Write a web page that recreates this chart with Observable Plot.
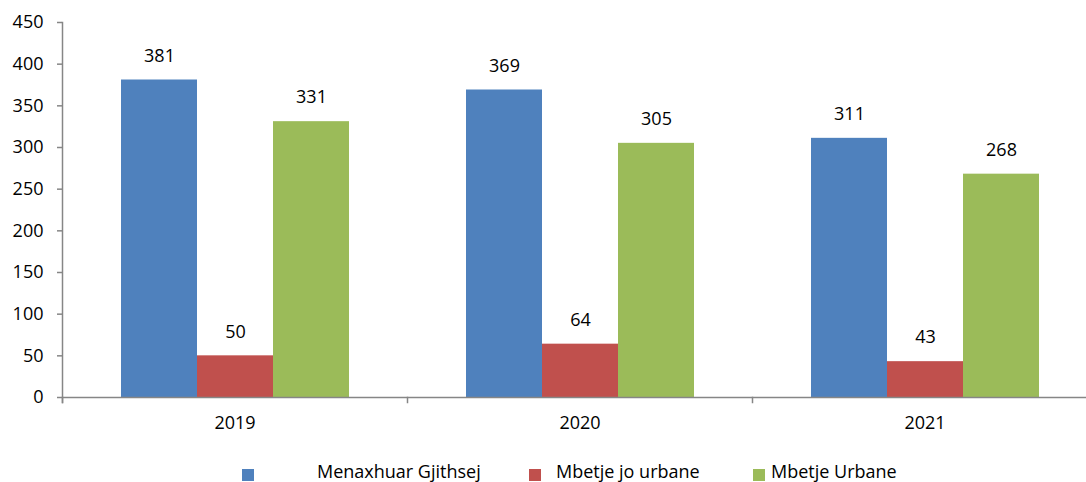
<!DOCTYPE html>
<html>
<head>
<meta charset="utf-8">
<script src="https://cdn.jsdelivr.net/npm/d3@7"></script>
<script src="https://cdn.jsdelivr.net/npm/@observablehq/plot@0.6"></script>
<style>
  html, body { margin: 0; padding: 0; background: #fff; overflow: hidden; }
  #wrap { position: relative; width: 1086px; height: 482px; overflow: hidden; font-family: "Open Sans", sans-serif; }
  #chart { width: 1097px; }
  #chart svg { max-width: none; display: block; }
  .lg-sq { position: absolute; width: 12px; height: 12px; top: 469px; }
  .lg-tx { position: absolute; top: 460px; font-size: 18px; line-height: 22px; color: #000; white-space: nowrap; }
</style>
</head>
<body>
<div id="wrap"><div id="chart"></div><div id="legend"></div></div>
<script>
const years = ["2019", "2020", "2021"];
const series = ["Menaxhuar Gjithsej", "Mbetje jo urbane", "Mbetje Urbane"];
const menaxhuarGjithsej = [381, 369, 311];
const mbetjeJoUrbane = [50, 64, 43];
const mbetjeUrbane = [331, 305, 268];
const colors = ["#4F81BD", "#C0504D", "#9BBB59"];
const yTicks = [0, 50, 100, 150, 200, 250, 300, 350, 400, 450];

const valuesBySeries = [menaxhuarGjithsej, mbetjeJoUrbane, mbetjeUrbane];
const rows = years.flatMap((year, i) =>
  series.map((s, j) => ({year, series: s, value: valuesBySeries[j][i]}))
);

const gray = "#868686";
const plot = Plot.plot({
  width: 1097,
  height: 440,
  marginLeft: 62,
  marginRight: 0,
  marginTop: 22,
  marginBottom: 43,
  style: {fontFamily: "'Open Sans', sans-serif", fontSize: "18px", color: "#000", background: "#fff"},
  fx: {domain: years, padding: 0, label: null},
  x: {domain: series, paddingInner: 0, paddingOuter: 0.755, axis: null},
  y: {domain: [0, 450], label: null},
  color: {domain: series, range: colors},
  marks: [
    Plot.barY(rows, {fx: "year", x: "series", y: "value", fill: "series"}),
    Plot.text(rows, {fx: "year", x: "series", y: "value", text: d => String(d.value), dy: -24, fontSize: 18, fill: "#000"}),
    Plot.ruleY([0], {stroke: gray, strokeWidth: 1.5}),
    Plot.frame({anchor: "left", facetAnchor: "left", insetBottom: -5, stroke: gray, strokeWidth: 1.5}),
    Plot.frame({anchor: "left", insetTop: 375, insetBottom: -5, stroke: gray, strokeWidth: 1.5}),
    Plot.axisY(yTicks, {tickSize: 5, tickPadding: 14, stroke: gray, strokeWidth: 1.5, fill: "#000", label: null, fontSize: 18}),
    Plot.axisFx({anchor: "bottom", tickSize: 0, tickPadding: 19, label: null, fontSize: 18, fill: "#000"})
  ]
});
document.getElementById("chart").appendChild(plot);

// legend (HTML, below the SVG)
const legendSquareLeft = [242, 529, 753];
const legendTextLeft = [317, 556, 771];
const legend = document.getElementById("legend");
series.forEach((s, i) => {
  const sq = document.createElement("div");
  sq.className = "lg-sq";
  sq.style.left = legendSquareLeft[i] + "px";
  sq.style.background = colors[i];
  legend.appendChild(sq);
  const tx = document.createElement("div");
  tx.className = "lg-tx";
  tx.style.left = legendTextLeft[i] + "px";
  tx.textContent = s;
  legend.appendChild(tx);
});
</script>
</body>
</html>
